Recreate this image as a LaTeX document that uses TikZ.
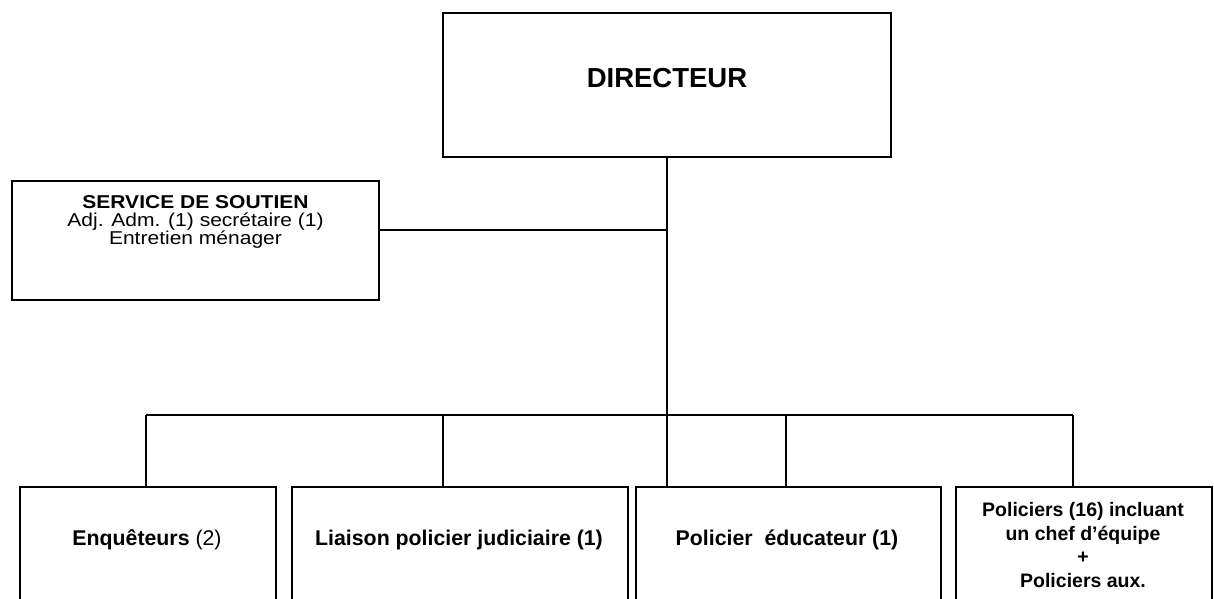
\documentclass[tikz,border=0pt]{standalone}
\usepackage{fontspec}
\setmainfont{Liberation Sans}
\newfontfamily\widefont[FakeStretch=1.13]{Liberation Sans}
\usetikzlibrary{positioning}

\begin{document}
\begin{tikzpicture}[
        x=1pt, y=-1pt,
        box/.style={draw, rectangle, line width=1.6pt, inner sep=0pt},
        lbl/.style={align=center, inner sep=0pt, font=\fontsize{21.3}{23.5}\selectfont\bfseries},
        line width=1.3pt
    ]
        \useasboundingbox (0,0) rectangle (1214,598);
        \clip (0,0) rectangle (1214,598);

        \node[box, minimum width=448pt, minimum height=144pt] (dir) at (667,85) {};
        \node[lbl, font=\fontsize{27.5}{30}\selectfont\bfseries] (dirT) at (667,78) {DIRECTEUR};
        \node[box, minimum width=367pt, minimum height=119pt] (sout) at (195.5,240.5) {};
        \node[lbl, font=\widefont\fontsize{18.6}{17.8}\selectfont] (soutT) at (195.5,222) {\textbf{SERVICE DE SOUTIEN}\\Adj. Adm. (1) secrétaire (1)\\Entretien ménager};

        \node[box, anchor=north west, minimum width=256pt, minimum height=140pt] (enq) at (19,486) {};
        \node[box, anchor=north west, minimum width=336pt, minimum height=140pt] (liai) at (291,486) {};
        \node[box, anchor=north west, minimum width=305pt, minimum height=140pt] (peduc) at (635,486) {};
        \node[box, anchor=north west, minimum width=256pt, minimum height=140pt] (pol) at (955,486) {};

        \node[lbl] (enqT) at (147,540) {Enquêteurs \mdseries(2)};
        \node[lbl] (liaiT) at (459,540) {Liaison policier judiciaire (1)};
        \node[lbl] (peducT) at (787,540) {Policier\ \ éducateur (1)};
        \node[lbl, font=\fontsize{19.5}{23.5}\selectfont\bfseries] (polT) at (1083,545) {Policiers (16) incluant\\un chef d’équipe\\+\\Policiers aux.};

        \coordinate (j1) at (667,230);
        \coordinate (d1) at (146,415);
        \coordinate (d2) at (443,415);
        \coordinate (d4) at (786,415);
        \coordinate (d5) at (1073,415);

        \draw (dir.south) -- (dir.south |- peduc.north);
        \draw (sout.east |- j1) -- (j1);
        \draw (d1) -- (d5);
        \foreach \d/\b in {d1/enq, d2/liai, d4/peduc, d5/pol}
            \draw (\d) -- (\d |- \b.north);
    \end{tikzpicture}
\end{document}
